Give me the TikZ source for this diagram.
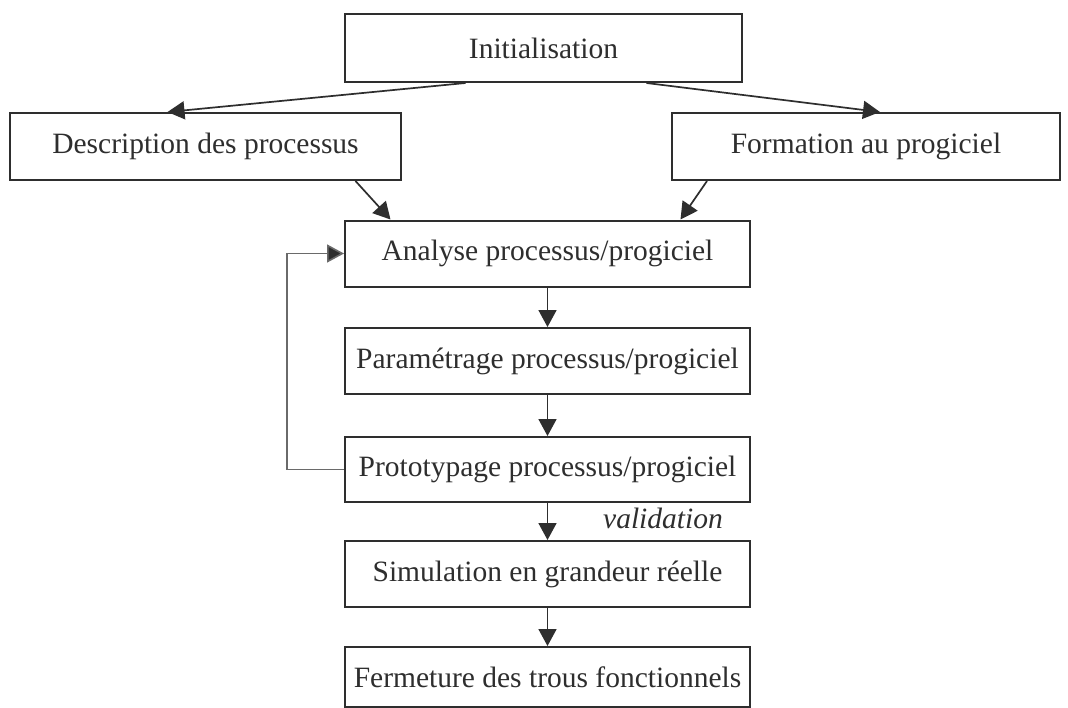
\documentclass[tikz,border=0pt]{standalone}
\usepackage{fontspec}
\setmainfont{Liberation Serif}
\usetikzlibrary{arrows.meta}
\definecolor{ink}{HTML}{2E2E2E}
\definecolor{loopc}{HTML}{6A6A6A}
\begin{document}
\begin{tikzpicture}[x=1pt,y=-1pt,
  box/.style={draw=ink, line width=2pt, text=ink, inner sep=0pt,
    font=\fontsize{29.5}{34}\selectfont, anchor=center},
  arr/.style={draw=ink, line width=1.7pt, -{Triangle[length=17pt,width=18pt]}},
]
\useasboundingbox[fill=white] (0,0) rectangle (1068,707);
\node[box, minimum width=397pt, minimum height=68pt] (init) at (543.5,48) {Initialisation};
\node[box, minimum width=391pt, minimum height=67pt] (desc) at (205.5,146.5) {Description des processus};
\node[box, minimum width=388pt, minimum height=67pt] (form) at (866,146.5) {Formation au progiciel};
\node[box, minimum width=405pt, minimum height=66pt] (ana) at (547.5,253.5) {Analyse processus/progiciel};
\node[box, minimum width=405pt, minimum height=66pt] (par) at (547.5,361) {Paramétrage processus/progiciel};
\node[box, minimum width=405pt, minimum height=65pt] (proto) at (547.5,469.5) {Prototypage processus/progiciel};
\node[box, minimum width=405pt, minimum height=66pt] (sim) at (547.5,574) {Simulation en grandeur réelle};
\node[box, minimum width=405pt, minimum height=60pt] (ferm) at (547.5,677) {Fermeture des trous fonctionnels};
\node[text=ink, font=\fontsize{29.5}{34}\selectfont\itshape, anchor=center] (val) at (663,518) {validation};

\draw[arr] ([xshift=-78pt]init.south) -- ([xshift=-38pt]desc.north);
\draw[arr] ([xshift=103pt]init.south) -- ([xshift=14pt]form.north);
\draw[arr] ([xshift=150pt]desc.south) -- ([xshift=-157pt]ana.north);
\draw[arr] ([xshift=-159pt]form.south) -- ([xshift=133pt]ana.north);
\draw[arr] (ana.south) -- (par.north);
\draw[arr] (par.south) -- (proto.north);
\draw[arr] (proto.south) -- (sim.north);
\draw[arr] (sim.south) -- (ferm.north);
\coordinate (lp) at (287,469.5);
\draw[draw=loopc, line width=1.6pt, -{Triangle[length=17pt,width=18pt,fill=ink]}] (proto.west) -- (lp) |- (ana.west);
\end{tikzpicture}
\end{document}
